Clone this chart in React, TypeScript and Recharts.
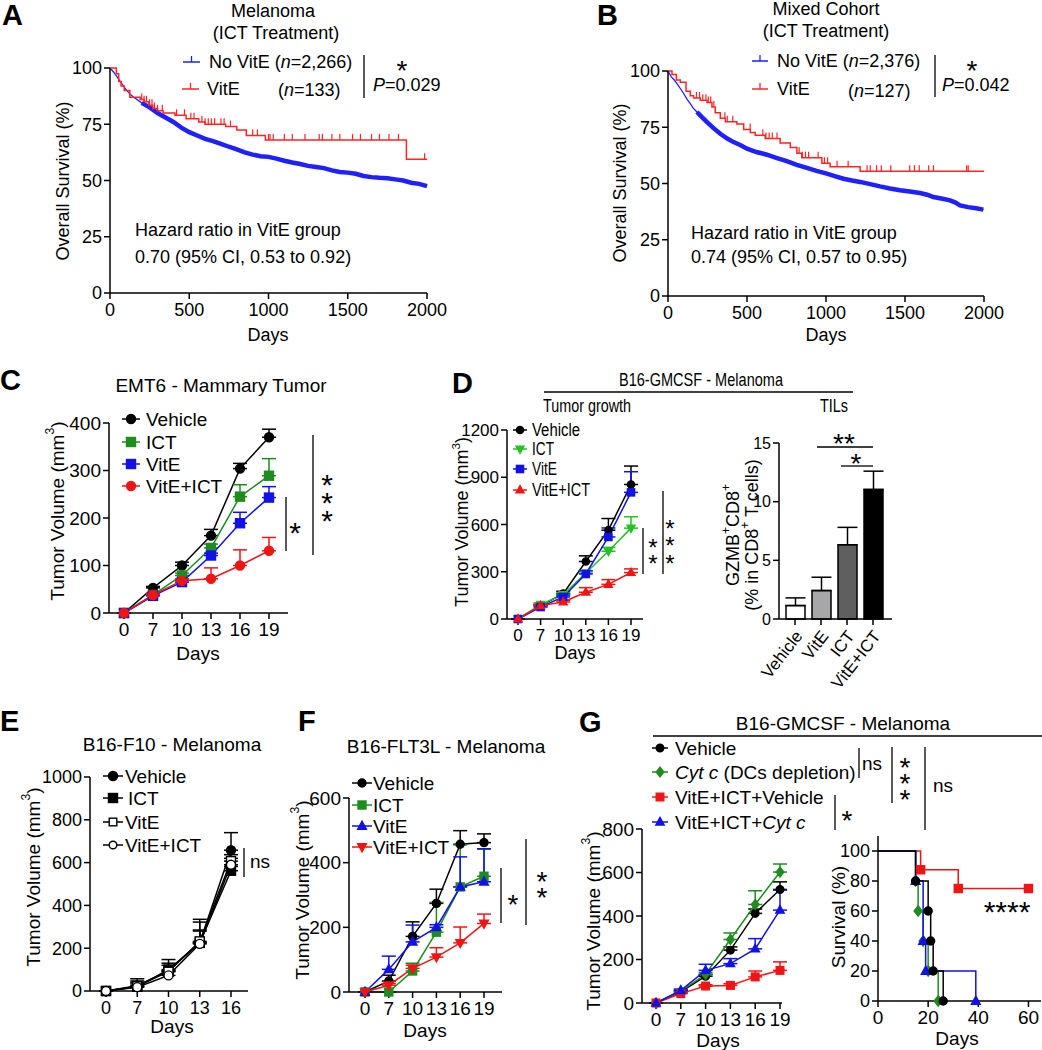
import React from 'react';
import { LineChart, Line, XAxis, YAxis, ErrorBar, BarChart, Bar, Cell } from 'recharts';

const FONT = "'Liberation Sans', Arial, Helvetica, sans-serif";
const NARROW = "'Liberation Sans Narrow', 'Liberation Sans', Arial, sans-serif";
const KBLUE = '#1f1fff';
const KRED = '#ff2424';
const BLUE = '#1212e6';
const RED = '#f01515';
const GREEN = '#1e8c1e';
const LGREEN = '#22c322';

// ---- A / B : Kaplan-Meier (days, % survival) ----
const kmTicksX = [0, 500, 1000, 1500, 2000];
const kmTicksY = [0, 25, 50, 75, 100];

const aNoVitE: [number, number][] = [
  [0, 100], [25, 98], [50, 95.5], [75, 93], [100, 90.5], [125, 88.5], [150, 87], [200, 84.5], [250, 82.5],
  [300, 80], [350, 78], [400, 76], [450, 73.5], [500, 71.5], [550, 70], [600, 68.5], [650, 67.5], [700, 66.3],
  [750, 65], [800, 63.8], [850, 62.5], [900, 61.5], [950, 60.8], [1000, 60.5], [1050, 59.7], [1100, 58.8],
  [1150, 58], [1200, 57.3], [1250, 56.5], [1300, 56], [1350, 55.5], [1400, 54.5], [1450, 53.8], [1500, 53.5],
  [1550, 53], [1600, 52], [1650, 51.5], [1700, 51.2], [1750, 51], [1800, 50.5], [1850, 50], [1900, 49],
  [1950, 48.5], [2000, 47.5],
];
const aVitE: [number, number][] = [
  [0, 100], [40, 97.5], [55, 94], [70, 92], [90, 90], [125, 87], [190, 86], [215, 85], [245, 83.5], [270, 82],
  [300, 81], [335, 80], [410, 79], [480, 77.5], [560, 76], [600, 75], [730, 74], [800, 72.5], [860, 70],
  [980, 68], [1870, 59.5], [2000, 59.5],
];
const aVitECensor = [200, 215, 230, 250, 265, 280, 300, 330, 420, 470, 510, 530, 580, 600, 620, 640, 660, 700,
  720, 760, 900, 930, 1000, 1010, 1030, 1100, 1150, 1230, 1320, 1340, 1400, 1450, 1530, 1580, 1650, 1700, 1760,
  1820, 1985];

const bNoVitE: [number, number][] = [
  [0, 100], [20, 97.5], [40, 96], [57, 94.4], [80, 92], [99, 90], [120, 87.5], [141, 85.5], [160, 83.5],
  [183, 81.8], [215, 79.5], [247, 77.3], [290, 74.5], [331, 72.1], [375, 70], [415, 68.4], [460, 67], [500, 65.5],
  [560, 64], [626, 62.8], [690, 61.3], [752, 59.9], [815, 58.3], [879, 56.9], [940, 55.6], [1005, 54.4],
  [1060, 53.2], [1111, 52.1], [1165, 51.3], [1216, 50.7], [1280, 49.7], [1342, 48.7], [1405, 47.8], [1469, 47],
  [1530, 46.4], [1595, 45.8], [1640, 45], [1680, 44], [1730, 43.3], [1785, 42.5], [1820, 41.5], [1848, 40.3],
  [1900, 39.5], [1950, 39], [1996, 38.4],
];
const bVitE: [number, number][] = [
  [0, 100], [25, 98.5], [53, 96], [78, 95], [114, 91], [141, 89], [162, 88], [204, 87], [247, 86], [278, 84],
  [299, 81.5], [331, 79], [363, 77.5], [436, 76.5], [479, 74], [521, 72.7], [552, 71.5], [615, 70], [710, 68],
  [774, 66], [816, 63.5], [847, 61.5], [974, 59], [1026, 57.5], [1216, 55.5], [2000, 55.5],
];
const bVitECensor = [180, 200, 220, 240, 255, 270, 290, 360, 375, 410, 520, 600, 620, 640, 660, 690, 830, 850,
  870, 890, 950, 990, 1010, 1070, 1140, 1260, 1280, 1320, 1350, 1410, 1530, 1560, 1590, 1650, 1680, 1890, 1900];

// ---- C : EMT6 ----
const cDays = ['0', '7', '10', '13', '16', '19'];
const cVehicle = [0, 53, 100, 163, 304, 370];
const cVehicleErr = [0, 3, 7, 13, 11, 17];
const cICT = [0, 38, 79, 137, 245, 289];
const cICTErr = [0, 3, 5, 8, 25, 36];
const cVitE = [0, 36, 65, 121, 189, 243];
const cVitEErr = [0, 3, 4, 5, 23, 23];
const cCombo = [0, 38, 68, 72, 100, 131];
const cComboErr = [0, 3, 4, 23, 33, 28];

// ---- D : B16-GMCSF growth + TILs ----
const dDays = ['0', '7', '10', '13', '16', '19'];
const dVehicle = [0, 85, 161, 365, 564, 854];
const dVehicleErr = [0, 8, 15, 36, 74, 117];
const dICT = [0, 93, 155, 292, 430, 577];
const dICTErr = [0, 10, 12, 15, 25, 72];
const dVitE = [0, 76, 140, 286, 521, 804];
const dVitEErr = [0, 8, 12, 20, 57, 131];
const dCombo = [0, 85, 108, 170, 220, 295];
const dComboErr = [0, 8, 10, 29, 30, 23];

const tilGroups = ['Vehicle', 'VitE', 'ICT', 'VitE+ICT'];
const tilValues = [1.14, 2.42, 6.33, 11.04];
const tilErrs = [0.66, 1.14, 1.48, 1.56];
const tilFills = ['#ffffff', '#a7a7aa', '#5f5f5f', '#000000'];

// ---- E : B16-F10 ----
const eDays = ['0', '7', '10', '13', '16'];
const eVehicle = [0, 25, 95, 225, 658];
const eVehicleErr = [0, 32, 52, 110, 82];
const eICT = [0, 20, 100, 225, 562];
const eICTErr = [0, 20, 30, 60, 20];
const eVitE = [0, 22, 90, 232, 607];
const eVitEErr = [0, 25, 30, 90, 30];
const eCombo = [0, 18, 73, 220, 590];
const eComboErr = [0, 15, 20, 60, 30];

// ---- F : B16-FLT3L ----
const fDays = ['0', '7', '10', '13', '16', '19'];
const fVehicle = [0, 34, 172, 274, 457, 462];
const fVehicleErr = [0, 18, 45, 44, 42, 27];
const fICT = [0, 0, 65, 185, 325, 358];
const fICTErr = [0, 0, 24, 92, 130, 84];
const fVitE = [0, 70, 155, 200, 325, 341];
const fVitEErr = [0, 41, 52, 8, 93, 102];
const fCombo = [0, 21, 73, 108, 152, 212];
const fComboErr = [0, 5, 10, 29, 49, 29];

// ---- G : B16-GMCSF with Cyt c ----
const gDays = ['0', '7', '10', '13', '16', '19'];
const gVehicle = [0, 51, 123, 243, 412, 522];
const gVehicleErr = [0, 5, 8, 15, 20, 35];
const gCyt = [0, 55, 132, 292, 453, 602];
const gCytErr = [0, 5, 8, 30, 63, 37];
const gComboVeh = [0, 43, 78, 81, 120, 150];
const gComboVehErr = [0, 4, 6, 8, 27, 39];
const gComboCyt = [0, 58, 150, 181, 249, 427];
const gComboCytErr = [0, 6, 28, 23, 47, 92];

const gSurvVehicle: [number, number][] = [[0, 100], [15, 80], [20, 60], [21, 40], [22, 20], [26, 0]];
const gSurvCyt: [number, number][] = [[0, 100], [15, 80], [16, 60], [18, 40], [20, 20], [24, 0]];
const gSurvComboVeh: [number, number][] = [[0, 100], [17, 87.5], [32, 75], [60, 75]];
const gSurvComboCyt: [number, number][] = [[0, 100], [15, 80], [18, 40], [19, 20], [39, 0]];

// ---------------------------------------------------------------
type Shape = 'circle' | 'square' | 'tri' | 'itri' | 'diamond';
type Box = { x0: number; y0: number; x1: number; y1: number };
const YW = 60, MT = 10, MR = 30;

function frame(b: Box, xh = 40) {
  return {
    style: { position: 'absolute', left: b.x0 - YW, top: b.y0 - MT } as React.CSSProperties,
    width: b.x1 - b.x0 + YW + MR,
    height: b.y1 - b.y0 + MT + xh,
    xh,
  };
}

function shapeEl(shape: Shape, cx: number, cy: number, r: number, fill: string, stroke: string, key?: React.Key) {
  const sw = 1.4;
  switch (shape) {
    case 'circle':
      return <circle key={key} cx={cx} cy={cy} r={r} fill={fill} stroke={stroke} strokeWidth={sw} />;
    case 'square':
      return <rect key={key} x={cx - r} y={cy - r} width={2 * r} height={2 * r} fill={fill} stroke={stroke} strokeWidth={sw} />;
    case 'tri':
      return <polygon key={key} points={`${cx},${cy - r * 1.2} ${cx + r * 1.1},${cy + r * 0.8} ${cx - r * 1.1},${cy + r * 0.8}`} fill={fill} stroke={stroke} strokeWidth={sw} />;
    case 'itri':
      return <polygon key={key} points={`${cx},${cy + r * 1.2} ${cx + r * 1.1},${cy - r * 0.8} ${cx - r * 1.1},${cy - r * 0.8}`} fill={fill} stroke={stroke} strokeWidth={sw} />;
    default:
      return <polygon key={key} points={`${cx},${cy - r * 1.3} ${cx + r},${cy} ${cx},${cy + r * 1.3} ${cx - r},${cy}`} fill={fill} stroke={stroke} strokeWidth={sw} />;
  }
}

const dotFn = (shape: Shape, fill: string, stroke: string, r: number, skipFirst = false) => (p: any) => {
  if (p.cx == null || p.cy == null || (skipFirst && p.index === 0)) return <g key={`e${p.index}`} />;
  return shapeEl(shape, p.cx, p.cy, r, fill, stroke, `d${p.index}`);
};

const censorDot = (color: string) => (p: any) => {
  if (p.cx == null || p.cy == null) return <g key={`e${p.index}`} />;
  return <line key={`c${p.index}`} x1={p.cx} x2={p.cx} y1={p.cy} y2={p.cy - 6} stroke={color} strokeWidth={1.2} />;
};

function stepAt(steps: [number, number][], t: number) {
  let v = steps[0][1];
  for (const [st, sv] of steps) if (st <= t) v = sv;
  return v;
}

const axisProps = (size: number, fam = FONT) => ({
  tick: { fill: '#000', fontSize: size, fontFamily: fam },
  tickLine: { stroke: '#000', strokeWidth: 1.5 },
  axisLine: { stroke: '#000', strokeWidth: 1.5 },
});

// ---- KM chart (A/B) ----
function KMChart({ box, blue, red, censor, thickFrom }: { box: Box; blue: [number, number][]; red: [number, number][]; censor: number[]; thickFrom: number }) {
  const f = frame(box);
  const thin = blue.map(([t, v]) => ({ t, v }));
  const thick = blue.filter(([t]) => t >= thickFrom).map(([t, v]) => ({ t, v }));
  const redData = red.map(([t, v]) => ({ t, v }));
  const censorData = censor.map((t) => ({ t, v: stepAt(red, t) }));
  return (
    <div style={f.style}>
      <LineChart width={f.width} height={f.height} margin={{ top: MT, right: MR, left: 0, bottom: 0 }}>
        <XAxis dataKey="t" type="number" domain={[0, 2000]} ticks={kmTicksX} interval={0} height={f.xh} tickMargin={4} {...axisProps(18)} />
        <YAxis type="number" domain={[0, 100]} ticks={kmTicksY} interval={0} width={YW} {...axisProps(18)} />
        <Line data={thin} dataKey="v" type="linear" stroke={KBLUE} strokeWidth={1.3} dot={false} isAnimationActive={false} />
        <Line data={thick} dataKey="v" type="linear" stroke={KBLUE} strokeWidth={4.5} dot={false} isAnimationActive={false} />
        <Line data={redData} dataKey="v" type="stepAfter" stroke={KRED} strokeWidth={1.5} dot={false} isAnimationActive={false} />
        <Line data={censorData} dataKey="v" stroke="none" dot={censorDot(KRED)} isAnimationActive={false} />
      </LineChart>
    </div>
  );
}

// ---- tumour growth chart ----
interface Series { key: string; color: string; shape: Shape; fill: string; vals: number[]; errs: number[] }

function GrowthChart({ box, days, series, yMax, yTicks, size, pad, fam = FONT, r = 4.5 }: {
  box: Box; days: string[]; series: Series[]; yMax: number; yTicks: number[]; size: number; pad: [number, number]; fam?: string; r?: number;
}) {
  const f = frame(box);
  const rows = days.map((d, i) => {
    const row: any = { day: d };
    series.forEach((s) => {
      row[s.key] = s.vals[i];
      row[s.key + 'E'] = [0, s.errs[i]];
    });
    return row;
  });
  return (
    <div style={f.style}>
      <LineChart width={f.width} height={f.height} data={rows} margin={{ top: MT, right: MR, left: 0, bottom: 0 }}>
        <XAxis dataKey="day" type="category" padding={{ left: pad[0], right: pad[1] }} interval={0} height={f.xh} tickMargin={4} {...axisProps(size, fam)} />
        <YAxis type="number" domain={[0, yMax]} ticks={yTicks} interval={0} width={YW} {...axisProps(size, fam)} />
        {series.map((s) => (
          <Line key={s.key} dataKey={s.key} type="linear" stroke={s.color} strokeWidth={1.5} dot={dotFn(s.shape, s.fill, s.color, r)} isAnimationActive={false}>
            <ErrorBar dataKey={s.key + 'E'} direction="y" width={7} stroke={s.color} strokeWidth={1.5} />
          </Line>
        ))}
      </LineChart>
    </div>
  );
}

function TilChart({ box }: { box: Box }) {
  const f = frame(box, 100);
  const rows = tilGroups.map((g, i) => ({ g, v: tilValues[i], e: [0, tilErrs[i]] }));
  const rotTick = (p: any) => {
    const y = p.y + 6;
    return (
      <text x={p.x + 4} y={y} transform={`rotate(-52 ${p.x + 4} ${y})`} textAnchor="end" dominantBaseline="central" fontSize={17} fontFamily={NARROW} fill="#000">
        {p.payload.value}
      </text>
    );
  };
  return (
    <div style={f.style}>
      <BarChart width={f.width} height={f.height} data={rows} margin={{ top: MT, right: MR, left: 0, bottom: 0 }} barCategoryGap={0}>
        <XAxis dataKey="g" type="category" padding={{ left: 3, right: 6 }} interval={0} height={f.xh} tick={rotTick} tickLine={{ stroke: '#000', strokeWidth: 1.5 }} axisLine={{ stroke: '#000', strokeWidth: 1.5 }} />
        <YAxis type="number" domain={[0, 15]} ticks={[0, 5, 10, 15]} interval={0} width={YW} {...axisProps(16, NARROW)} />
        <Bar dataKey="v" barSize={19} stroke="#000" strokeWidth={1.5} isAnimationActive={false}>
          {rows.map((_, i) => <Cell key={i} fill={tilFills[i]} />)}
          <ErrorBar dataKey="e" direction="y" width={10} stroke="#000" strokeWidth={1.5} />
        </Bar>
      </BarChart>
    </div>
  );
}

function SurvChart({ box }: { box: Box }) {
  const f = frame(box);
  const curves: { d: [number, number][]; c: string; s: Shape }[] = [
    { d: gSurvComboVeh, c: RED, s: 'square' },
    { d: gSurvCyt, c: GREEN, s: 'diamond' },
    { d: gSurvComboCyt, c: BLUE, s: 'tri' },
    { d: gSurvVehicle, c: '#000', s: 'circle' },
  ];
  return (
    <div style={f.style}>
      <LineChart width={f.width} height={f.height} margin={{ top: MT, right: MR, left: 0, bottom: 0 }}>
        <XAxis dataKey="t" type="number" domain={[0, 65]} ticks={[0, 20, 40, 60]} interval={0} height={f.xh} tickMargin={4} {...axisProps(19)} />
        <YAxis type="number" domain={[0, 110]} ticks={[0, 20, 40, 60, 80, 100]} interval={0} width={YW} {...axisProps(18)} />
        {curves.map((cv, i) => (
          <Line key={i} data={cv.d.map(([t, v]) => ({ t, v }))} dataKey="v" type="stepAfter" stroke={cv.c} strokeWidth={1.5}
            dot={dotFn(cv.s, cv.c, cv.c, 4, true)} isAnimationActive={false} />
        ))}
      </LineChart>
    </div>
  );
}

// ---- overlay text helpers ----
const Lbl = ({ x, y, size = 18, anchor = 'start', fam = FONT, bold = false, rot = false, italic = false, len, children }: any) => (
  <text x={x} y={y} fontSize={size} fontFamily={fam} fontWeight={bold ? 'bold' : 'normal'} fontStyle={italic ? 'italic' : 'normal'}
    textAnchor={anchor} dominantBaseline="central" fill="#000" transform={rot ? `rotate(-90 ${x} ${y})` : undefined}
    textLength={len} lengthAdjust={len ? 'spacingAndGlyphs' : undefined}>
    {children}
  </text>
);
const Star = ({ x, y, size = 28, text = '*' }: any) => (
  <text x={x} y={y + size * 0.22} fontSize={size} fontFamily={FONT} textAnchor="middle" dominantBaseline="central" fill="#000">{text}</text>
);
// stacked asterisks as a single text element
const Stars = ({ x, ys, size = 28 }: { x: number; ys: number[]; size?: number }) => (
  <text fontSize={size} fontFamily={FONT} textAnchor="middle" dominantBaseline="central" fill="#000">
    {ys.map((y, i) => <tspan key={i} x={x} y={y + size * 0.22}>*</tspan>)}
  </text>
);
const VL = ({ x, y0, y1, w = 1.3 }: any) => <line x1={x} x2={x} y1={y0} y2={y1} stroke="#000" strokeWidth={w} />;
const HL = ({ y, x0, x1, w = 1.3 }: any) => <line x1={x0} x2={x1} y1={y} y2={y} stroke="#000" strokeWidth={w} />;

function LegItem({ x, y, len, color, shape, fill, r = 4.5, tx, size = 18, fam = FONT, tlen, children }: any) {
  return (
    <g>
      <line x1={x} x2={x + len} y1={y} y2={y} stroke={color} strokeWidth={1.5} />
      {shape ? shapeEl(shape, x + len / 2, y, r, fill, color) : <line x1={x + len / 2} x2={x + len / 2} y1={y} y2={y - 6} stroke={color} strokeWidth={1.3} />}
      <Lbl x={tx} y={y} size={size} fam={fam} len={tlen}>{children}</Lbl>
    </g>
  );
}

const Vol = ({ x, y, size = 19, fam = FONT }: any) => (
  <Lbl x={x} y={y} size={size} fam={fam} anchor="middle" rot>
    Tumor Volume (mm<tspan dy={-7} fontSize={size * 0.65}>3</tspan><tspan dy={7}>)</tspan>
  </Lbl>
);

export default function App() {
  const cSeries: Series[] = [
    { key: 'veh', color: '#000', shape: 'circle', fill: '#000', vals: cVehicle, errs: cVehicleErr },
    { key: 'ict', color: GREEN, shape: 'square', fill: GREEN, vals: cICT, errs: cICTErr },
    { key: 'vite', color: BLUE, shape: 'square', fill: BLUE, vals: cVitE, errs: cVitEErr },
    { key: 'combo', color: RED, shape: 'circle', fill: RED, vals: cCombo, errs: cComboErr },
  ];
  const dSeries: Series[] = [
    { key: 'veh', color: '#000', shape: 'circle', fill: '#000', vals: dVehicle, errs: dVehicleErr },
    { key: 'ict', color: LGREEN, shape: 'itri', fill: LGREEN, vals: dICT, errs: dICTErr },
    { key: 'vite', color: BLUE, shape: 'square', fill: BLUE, vals: dVitE, errs: dVitEErr },
    { key: 'combo', color: RED, shape: 'tri', fill: RED, vals: dCombo, errs: dComboErr },
  ];
  const eSeries: Series[] = [
    { key: 'veh', color: '#000', shape: 'circle', fill: '#000', vals: eVehicle, errs: eVehicleErr },
    { key: 'ict', color: '#000', shape: 'square', fill: '#000', vals: eICT, errs: eICTErr },
    { key: 'vite', color: '#000', shape: 'square', fill: '#fff', vals: eVitE, errs: eVitEErr },
    { key: 'combo', color: '#000', shape: 'circle', fill: '#fff', vals: eCombo, errs: eComboErr },
  ];
  const fSeries: Series[] = [
    { key: 'veh', color: '#000', shape: 'circle', fill: '#000', vals: fVehicle, errs: fVehicleErr },
    { key: 'ict', color: GREEN, shape: 'square', fill: GREEN, vals: fICT, errs: fICTErr },
    { key: 'vite', color: BLUE, shape: 'tri', fill: BLUE, vals: fVitE, errs: fVitEErr },
    { key: 'combo', color: RED, shape: 'itri', fill: RED, vals: fCombo, errs: fComboErr },
  ];
  const gSeries: Series[] = [
    { key: 'veh', color: '#000', shape: 'circle', fill: '#000', vals: gVehicle, errs: gVehicleErr },
    { key: 'cyt', color: GREEN, shape: 'diamond', fill: GREEN, vals: gCyt, errs: gCytErr },
    { key: 'cveh', color: RED, shape: 'square', fill: RED, vals: gComboVeh, errs: gComboVehErr },
    { key: 'ccyt', color: BLUE, shape: 'tri', fill: BLUE, vals: gComboCyt, errs: gComboCytErr },
  ];

  return (
    <div style={{ position: 'absolute', left: 0, top: 0, width: 1042, height: 1050, overflow: 'hidden', background: '#fff', fontFamily: FONT }}>
      <KMChart box={{ x0: 110, y0: 68, x1: 427, y1: 293 }} blue={aNoVitE} red={aVitE} censor={aVitECensor} thickFrom={200} />
      <KMChart box={{ x0: 668, y0: 71, x1: 984, y1: 296 }} blue={bNoVitE} red={bVitE} censor={bVitECensor} thickFrom={180} />
      <GrowthChart box={{ x0: 109, y0: 423, x1: 288, y1: 613 }} days={cDays} series={cSeries} yMax={400} yTicks={[0, 100, 200, 300, 400]} size={19} pad={[15, 19]} />
      <GrowthChart box={{ x0: 507, y0: 430, x1: 643, y1: 619 }} days={dDays} series={dSeries} yMax={1200} yTicks={[0, 300, 600, 900, 1200]} size={17} pad={[11, 12]} fam={NARROW} r={3.6} />
      <TilChart box={{ x0: 779, y0: 443, x1: 892, y1: 619 }} />
      <GrowthChart box={{ x0: 90, y0: 777, x1: 248, y1: 991 }} days={eDays} series={eSeries} yMax={1000} yTicks={[0, 200, 400, 600, 800, 1000]} size={18} pad={[16, 17]} />
      <GrowthChart box={{ x0: 349, y0: 798, x1: 502, y1: 992 }} days={fDays} series={fSeries} yMax={600} yTicks={[0, 200, 400, 600]} size={19} pad={[16, 18]} r={4} />
      <GrowthChart box={{ x0: 642, y0: 829, x1: 782, y1: 1003 }} days={gDays} series={gSeries} yMax={800} yTicks={[0, 200, 400, 600, 800]} size={19} pad={[14, 2]} r={3.8} />
      <SurvChart box={{ x0: 878, y0: 836, x1: 1041, y1: 1001 }} />

      <svg width={1042} height={1050} style={{ position: 'absolute', left: 0, top: 0, pointerEvents: 'none' }}>
        {/* panel letters */}
        <Lbl x={2} y={15} size={29} bold>A</Lbl>
        <Lbl x={597} y={15} size={29} bold>B</Lbl>
        <Lbl x={0} y={380} size={29} bold>C</Lbl>
        <Lbl x={452} y={383} size={29} bold>D</Lbl>
        <Lbl x={0} y={721} size={29} bold>E</Lbl>
        <Lbl x={298} y={721} size={29} bold>F</Lbl>
        <Lbl x={579} y={722} size={29} bold>G</Lbl>

        {/* A */}
        <Lbl x={273} y={11} anchor="middle">Melanoma</Lbl>
        <Lbl x={276} y={33} anchor="middle">(ICT Treatment)</Lbl>
        <LegItem x={183} y={62} len={17} color={KBLUE} tx={209}>No VitE (<tspan fontStyle="italic">n</tspan>=2,266)</LegItem>
        <LegItem x={182} y={89} len={17} color={KRED} tx={207}>VitE</LegItem>
        <Lbl x={278} y={90}>(<tspan fontStyle="italic">n</tspan>=133)</Lbl>
        <VL x={364} y0={55} y1={98} />
        <Star x={402} y={64} />
        <Lbl x={373} y={85}><tspan fontStyle="italic">P</tspan>=0.029</Lbl>
        <Lbl x={135} y={230}>Hazard ratio in VitE group</Lbl>
        <Lbl x={135} y={257}>0.70 (95% CI, 0.53 to 0.92)</Lbl>
        <Lbl x={63} y={181} anchor="middle" rot>Overall Survival (%)</Lbl>
        <Lbl x={268} y={335} anchor="middle">Days</Lbl>

        {/* B */}
        <Lbl x={826} y={9} anchor="middle">Mixed Cohort</Lbl>
        <Lbl x={826} y={31} anchor="middle">(ICT Treatment)</Lbl>
        <LegItem x={752} y={61} len={16} color={KBLUE} tx={777}>No VitE (<tspan fontStyle="italic">n</tspan>=2,376)</LegItem>
        <LegItem x={752} y={89} len={16} color={KRED} tx={777}>VitE</LegItem>
        <Lbl x={848} y={91}>(<tspan fontStyle="italic">n</tspan>=127)</Lbl>
        <VL x={935} y0={55} y1={97} />
        <Star x={972} y={64} />
        <Lbl x={942} y={85}><tspan fontStyle="italic">P</tspan>=0.042</Lbl>
        <Lbl x={691} y={233}>Hazard ratio in VitE group</Lbl>
        <Lbl x={691} y={257}>0.74 (95% CI, 0.57 to 0.95)</Lbl>
        <Lbl x={620} y={183} anchor="middle" rot>Overall Survival (%)</Lbl>
        <Lbl x={826} y={335} anchor="middle">Days</Lbl>

        {/* C */}
        <Lbl x={221} y={385} size={19} anchor="middle">EMT6 - Mammary Tumor</Lbl>
        <LegItem x={122} y={419} len={18} color="#000" shape="circle" fill="#000" tx={146} size={19}>Vehicle</LegItem>
        <LegItem x={122} y={442} len={18} color={GREEN} shape="square" fill={GREEN} tx={146} size={19}>ICT</LegItem>
        <LegItem x={122} y={464} len={18} color={BLUE} shape="square" fill={BLUE} tx={146} size={19}>VitE</LegItem>
        <LegItem x={122} y={486} len={18} color={RED} shape="circle" fill={RED} tx={146} size={19}>VitE+ICT</LegItem>
        <Vol x={57} y={511} />
        <VL x={286} y0={497} y1={551} />
        <Star x={295} y={526} size={30} />
        <VL x={313} y0={435} y1={555} />
        <Stars x={327} ys={[477, 495, 513]} size={30} />
        <Lbl x={198} y={653} size={19} anchor="middle">Days</Lbl>

        {/* D (condensed lettering) */}
        <Lbl x={701} y={379} size={19} anchor="middle" fam={NARROW} len={164}>B16-GMCSF - Melanoma</Lbl>
        <HL y={392} x0={544} x1={853} />
        <Lbl x={543} y={405} size={19} fam={NARROW} len={88}>Tumor growth</Lbl>
        <Lbl x={820} y={405} size={19} fam={NARROW} len={28}>TILs</Lbl>
        <LegItem x={513} y={430} len={14} color="#000" shape="circle" fill="#000" r={3.6} tx={532} size={18} fam={NARROW} tlen={48}>Vehicle</LegItem>
        <LegItem x={513} y={449} len={14} color={LGREEN} shape="itri" fill={LGREEN} r={3.6} tx={532} size={18} fam={NARROW} tlen={22}>ICT</LegItem>
        <LegItem x={513} y={469} len={14} color={BLUE} shape="square" fill={BLUE} r={3.6} tx={532} size={18} fam={NARROW} tlen={25}>VitE</LegItem>
        <LegItem x={513} y={490} len={14} color={RED} shape="tri" fill={RED} r={3.6} tx={532} size={18} fam={NARROW} tlen={58}>VitE+ICT</LegItem>
        <Vol x={462} y={522} size={18} fam={NARROW} />
        <VL x={643} y0={528} y1={574} />
        <Stars x={653} ys={[542, 558]} size={24} />
        <VL x={663} y0={491} y1={574} />
        <Stars x={670} ys={[523, 540, 558]} size={24} />
        <Lbl x={575} y={653} size={18} anchor="middle" fam={NARROW}>Days</Lbl>
        <Lbl x={733} y={535} size={18} anchor="middle" rot fam={NARROW}>
          GZMB<tspan dy={-7} fontSize={12}>+</tspan><tspan dy={7}>CD8</tspan><tspan dy={-7} fontSize={12}>+</tspan>
        </Lbl>
        <Lbl x={752} y={535} size={18} anchor="middle" rot fam={NARROW}>
          (% in CD8<tspan dy={-7} fontSize={12}>+</tspan><tspan dy={7}> T cells)</tspan>
        </Lbl>
        <HL y={447} x0={817} x1={873} />
        <Star x={844} y={437} size={28} text="**" />
        <HL y={466} x0={841} x1={873} />
        <Star x={856} y={457} size={28} />

        {/* E */}
        <Lbl x={172} y={744} size={19} anchor="middle">B16-F10 - Melanoma</Lbl>
        <LegItem x={103} y={776} len={20} color="#000" shape="circle" fill="#000" tx={125} size={19}>Vehicle</LegItem>
        <LegItem x={103} y={798} len={20} color="#000" shape="square" fill="#000" tx={128} size={19}>ICT</LegItem>
        <LegItem x={103} y={822} len={20} color="#000" shape="square" fill="#fff" r={3.8} tx={125} size={19}>VitE</LegItem>
        <LegItem x={103} y={845} len={20} color="#000" shape="circle" fill="#fff" r={3.8} tx={125} size={19}>VitE+ICT</LegItem>
        <Vol x={33} y={877} />
        <VL x={244} y0={848} y1={877} />
        <Lbl x={250} y={861} size={19}>ns</Lbl>
        <Lbl x={172} y={1026} size={19} anchor="middle">Days</Lbl>

        {/* F */}
        <Lbl x={446} y={746} size={19} anchor="middle">B16-FLT3L - Melanoma</Lbl>
        <LegItem x={352} y={783} len={20} color="#000" shape="circle" fill="#000" r={4} tx={373} size={19}>Vehicle</LegItem>
        <LegItem x={352} y={805} len={20} color={GREEN} shape="square" fill={GREEN} r={4} tx={373} size={19}>ICT</LegItem>
        <LegItem x={352} y={826} len={20} color={BLUE} shape="tri" fill={BLUE} r={4} tx={373} size={19}>VitE</LegItem>
        <LegItem x={352} y={847} len={20} color={RED} shape="itri" fill={RED} r={4} tx={373} size={19}>VitE+ICT</LegItem>
        <Vol x={302} y={890} />
        <VL x={501} y0={868} y1={923} />
        <Star x={513} y={898} size={28} />
        <VL x={526} y0={839} y1={925} />
        <Stars x={542} ys={[875, 891]} size={28} />
        <Lbl x={425} y={1030} size={19} anchor="middle">Days</Lbl>

        {/* G */}
        <Lbl x={843} y={723} size={19} anchor="middle">B16-GMCSF  -  Melanoma</Lbl>
        <HL y={736} x0={653} x1={1042} />
        <LegItem x={652} y={748} len={16} color="#000" shape="circle" fill="#000" r={3.8} tx={675} size={19}>Vehicle</LegItem>
        <LegItem x={652} y={772} len={16} color={GREEN} shape="diamond" fill={GREEN} r={3.8} tx={675} size={19}>
          <tspan fontStyle="italic">Cyt c</tspan> (DCs depletion)
        </LegItem>
        <LegItem x={652} y={797} len={16} color={RED} shape="square" fill={RED} r={3.8} tx={675} size={19}>VitE+ICT+Vehicle</LegItem>
        <LegItem x={652} y={822} len={16} color={BLUE} shape="tri" fill={BLUE} r={3.8} tx={675} size={19}>
          VitE+ICT+<tspan fontStyle="italic">Cyt c</tspan>
        </LegItem>
        <VL x={859} y0={748} y1={778} />
        <Lbl x={862} y={763} size={19}>ns</Lbl>
        <VL x={892} y0={747} y1={803} />
        <Stars x={905} ys={[761, 777, 793]} size={28} />
        <VL x={925} y0={747} y1={830} />
        <Lbl x={933} y={785} size={19}>ns</Lbl>
        <VL x={835} y0={795} y1={830} />
        <Star x={847} y={814} size={28} />
        <Vol x={593} y={921} />
        <Lbl x={718} y={1040} size={19} anchor="middle">Days</Lbl>
        <Lbl x={838} y={917} size={19} anchor="middle" rot>Survival (%)</Lbl>
        <Lbl x={957} y={1038} size={19} anchor="middle">Days</Lbl>
        <Star x={1007} y={905} size={30} text="****" />
      </svg>
    </div>
  );
}
